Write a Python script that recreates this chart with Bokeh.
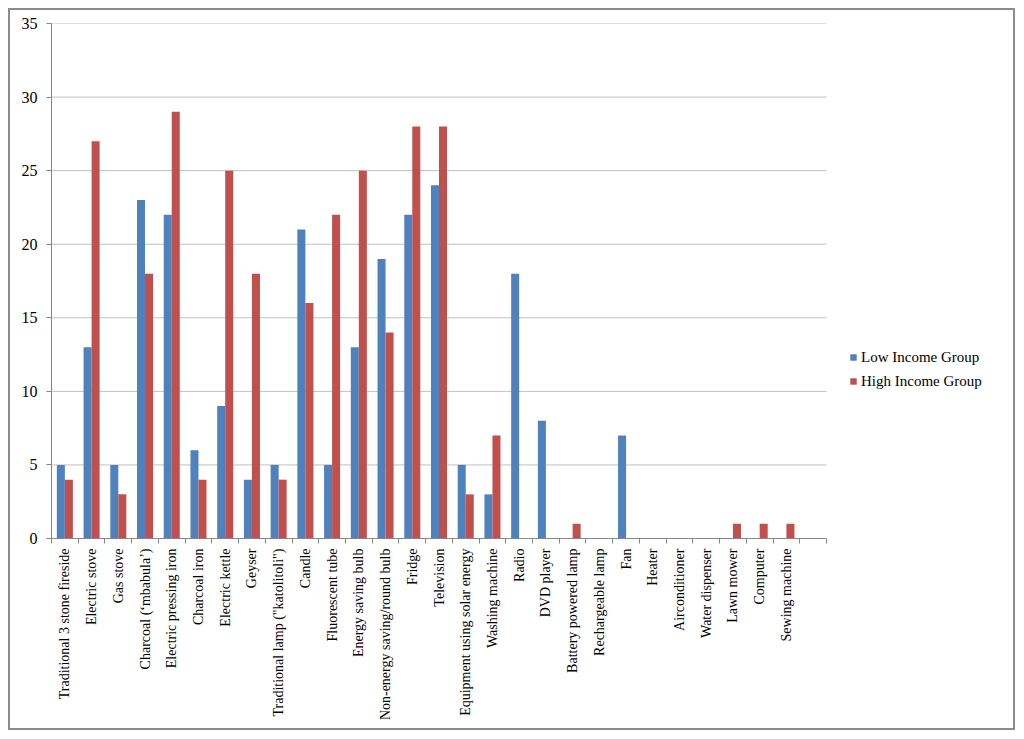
import numpy as np
from math import pi
from bokeh.plotting import figure
from bokeh.models import (ColumnDataSource, FixedTicker, Range1d, Legend, LegendItem)
from bokeh.embed import file_html
from bokeh.resources import INLINE

categories = ["Traditional 3 stone fireside", "Electric stove", "Gas stove",
              "Charcoal (\u2018mbabula\u2019)", "Electric pressing iron", "Charcoal iron",
              "Electric kettle", "Geyser", "Traditional lamp (\"katolitoli\")", "Candle",
              "Fluorescent tube", "Energy saving bulb", "Non-energy saving/round bulb",
              "Fridge", "Television", "Equipment using solar energy", "Washing machine",
              "Radio", "DVD player", "Battery powered lamp", "Rechargeable lamp", "Fan",
              "Heater", "Airconditioner", "Water dispenser", "Lawn mower", "Computer",
              "Sewing machine", ""]
low_income = [5, 13, 5, 23, 22, 6, 9, 4, 5, 21, 5, 13, 19, 22, 24, 5, 3, 18, 8, 0, 0, 7,
              0, 0, 0, 0, 0, 0, 0]
high_income = [4, 27, 3, 18, 29, 4, 25, 18, 4, 16, 22, 25, 14, 28, 28, 3, 7, 0, 0, 1, 0, 0,
               0, 0, 0, 1, 1, 1, 0]
series_names = ["Low Income Group", "High Income Group"]
y_ticks = [0, 5, 10, 15, 20, 25, 30, 35]

BLUE = "#4f81bd"
RED = "#c0504d"
FONT = "Liberation Serif"

n = len(categories)
centers = np.arange(n) + 0.5
src = ColumnDataSource(dict(xl=centers - 0.15, xh=centers + 0.15,
                            low=low_income, high=high_income))

W, H = 1007, 722
BL, BR = 41, 4
frame_px = W - BL - BR
plot_px = 775  # pixel width of the category area
x_end = n * frame_px / plot_px

p = figure(width=W, height=H, output_backend="svg", toolbar_location=None,
           x_range=Range1d(0, x_end), y_range=Range1d(0, 35),
           min_border_left=BL, min_border_right=BR, min_border_top=13,
           min_border_bottom=194)
p.styles = {"border": "2px solid #8c8c8c", "margin-left": "8px", "margin-top": "8px"}
p.outline_line_color = None
p.background_fill_color = "white"
p.border_fill_color = "white"

# horizontal gridlines limited to the category area
p.xgrid.grid_line_color = None
p.ygrid.grid_line_color = None
p.segment(x0=[0] * len(y_ticks), x1=[n] * len(y_ticks), y0=y_ticks, y1=y_ticks,
          line_color="#c0c0c0", line_width=1)

r1 = p.vbar(x="xl", top="low", width=0.3, source=src, fill_color=BLUE,
            line_color=None)
r2 = p.vbar(x="xh", top="high", width=0.3, source=src, fill_color=RED,
            line_color=None)

# x axis
xa = p.xaxis[0]
xa.bounds = (0, n)
xa.ticker = FixedTicker(ticks=list(centers), minor_ticks=list(np.arange(n + 1)))
xa.major_label_overrides = {float(c): categories[i] for i, c in enumerate(centers)}
xa.major_label_orientation = pi / 2
xa.major_tick_line_color = None
xa.major_tick_in = 0
xa.major_tick_out = 5
xa.minor_tick_line_color = "#868686"
xa.minor_tick_in = 0
xa.minor_tick_out = 5
xa.axis_line_color = "#868686"
xa.major_label_text_font = FONT
xa.major_label_text_font_size = "14px"
xa.major_label_text_color = "black"
xa.major_label_standoff = 5

# y axis
ya = p.yaxis[0]
ya.ticker = FixedTicker(ticks=y_ticks)
ya.axis_line_color = "#868686"
ya.major_tick_line_color = "#868686"
ya.major_tick_in = 0
ya.major_tick_out = 5
ya.minor_tick_line_color = None
ya.major_label_text_font = FONT
ya.major_label_text_font_size = "16px"
ya.major_label_text_color = "black"
ya.major_label_standoff = 9

legend = Legend(items=[LegendItem(label=series_names[0], renderers=[r1]),
                       LegendItem(label=series_names[1], renderers=[r2])],
                location=(798, 147))
legend.padding = 0
legend.margin = 0
legend.spacing = 4
legend.border_line_color = None
legend.background_fill_alpha = 0
legend.glyph_width = 8
legend.glyph_height = 8
legend.label_height = 20
legend.label_standoff = 4
legend.label_text_font = FONT
legend.label_text_font_size = "15px"
legend.label_text_color = "black"
p.add_layout(legend, "center")

open("out.html", "w").write(file_html(p, INLINE))
